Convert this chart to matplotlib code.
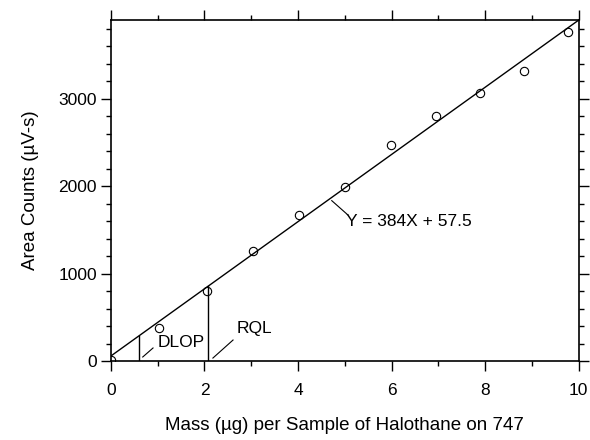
import matplotlib
matplotlib.use('Agg')
import matplotlib.pyplot as plt
from matplotlib.ticker import MultipleLocator
import numpy as np

mass = [0.0, 1.03, 2.05, 3.03, 4.02, 5.0, 5.98, 6.94, 7.88, 8.82, 9.77]
area = [10, 378, 802, 1260, 1672, 1993, 2474, 2795, 3058, 3310, 3757]
slope = 384
intercept = 57.5
dlop = 0.6
rql = 2.07

plt.rcParams['font.family'] = ['Liberation Sans', 'DejaVu Sans']

fig = plt.figure(figsize=(5.9, 4.4), dpi=100)
ax = fig.add_axes([0.188, 0.1795, 0.793, 0.775])

xs = np.array([0, 10])
ax.plot(xs, slope * xs + intercept, color='black', lw=1.0)
ax.plot(mass, area, 'o', mfc='none', mec='black', ms=6, mew=0.8)

for x0 in (dlop, rql):
    ax.plot([x0, x0], [0, slope * x0 + intercept], color='black', lw=1.0)

ax.text(1.0, 215, 'DLOP', fontsize=12.5, va='center', ha='left')
ax.plot([0.68, 0.90], [46, 149], color='black', lw=0.8)
ax.text(2.68, 370, 'RQL', fontsize=12.5, va='center', ha='left')
ax.plot([2.18, 2.61], [34, 240], color='black', lw=0.8)
ax.text(5.02, 1600, 'Y = 384X + 57.5', fontsize=12.5, va='center', ha='left')
ax.plot([4.72, 5.06], [1833, 1672], color='black', lw=0.8)

ax.set_xlim(0, 10)
ax.set_ylim(0, 3897.5)
ax.xaxis.set_major_locator(MultipleLocator(2))
ax.xaxis.set_minor_locator(MultipleLocator(1))
ax.yaxis.set_major_locator(MultipleLocator(1000))
ax.yaxis.set_minor_locator(MultipleLocator(200))
ax.tick_params(which='both', direction='out', top=True, right=True,
               labeltop=False, labelright=False, labelsize=12.5, width=1.0)
ax.tick_params(axis='x', which='both', pad=8)
ax.tick_params(axis='y', which='both', pad=2.5)
ax.tick_params(which='major', length=7.5)
ax.tick_params(which='minor', length=3.8)
for s in ax.spines.values():
    s.set_linewidth(1.2)

ax.set_xlabel('Mass (µg) per Sample of Halothane on 747', fontsize=13.5, labelpad=14)
ax.set_ylabel('Area Counts (µV-s)', fontsize=13.5, labelpad=14)

fig.savefig('out.png', dpi=100)
plt.close(fig)
